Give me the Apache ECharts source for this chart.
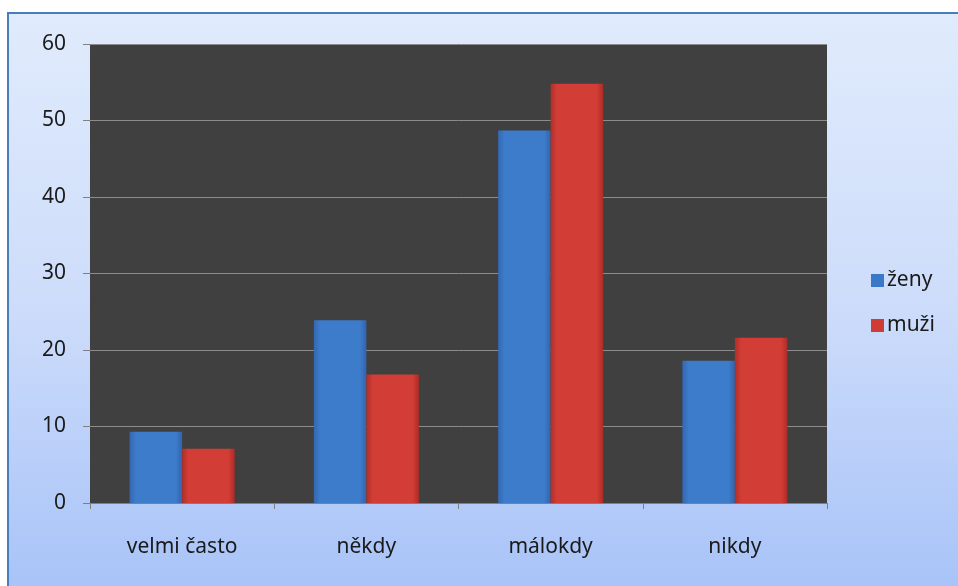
<!DOCTYPE html>
<html><head><meta charset="utf-8">
<script src="https://cdn.jsdelivr.net/npm/echarts@6/dist/echarts.min.js"></script>
<style>html,body{margin:0;padding:0;background:#fff}#c{width:958px;height:586px}</style>
</head><body><div id="c"></div>
<script>
const categories = ['velmi často', 'někdy', 'málokdy', 'nikdy'];
const zeny = [9.3, 23.9, 48.7, 18.6];
const muzi = [7.1, 16.8, 54.8, 21.6];
const yTicks = [0, 10, 20, 30, 40, 50, 60];

const chart = echarts.init(document.getElementById('c'), null, {renderer: 'canvas'});
const font = '"Noto Sans", sans-serif';
function barColor(c1, c2, c3) {
  return new echarts.graphic.LinearGradient(0, 0, 1, 0, [
    {offset: 0, color: c1}, {offset: 0.12, color: c2}, {offset: 0.88, color: c2}, {offset: 1, color: c3}
  ]);
}
chart.setOption({
  animation: false,
  backgroundColor: '#ffffff',
  graphic: [{
    type: 'rect', z: -10, silent: true,
    shape: {x: 8, y: 13, width: 960, height: 590},
    style: {
      fill: new echarts.graphic.LinearGradient(0, 0, 0, 1, [
        {offset: 0, color: '#e0ebfc'}, {offset: 0.5, color: '#cddcfa'}, {offset: 1, color: '#a6c2f8'}
      ]),
      stroke: '#4a7ebb', lineWidth: 2
    }
  }],
  grid: {left: 90, top: 44, width: 737, height: 459, backgroundColor: '#404040', show: true, borderWidth: 0},
  legend: {
    orient: 'vertical', left: 866, top: 265, itemGap: 24,
    itemWidth: 13, itemHeight: 13, icon: 'rect',
    textStyle: {fontFamily: font, fontSize: 21, color: '#1a1a1a', padding: [0, 0, 0, -2]},
    data: [{name: 'ženy', itemStyle: {color: '#3a78c8'}}, {name: 'muži', itemStyle: {color: '#cf3b35'}}]
  },
  xAxis: {
    type: 'category', data: categories,
    axisLine: {show: true, lineStyle: {color: '#808080'}},
    axisTick: {show: true, length: 6, lineStyle: {color: '#808080'}},
    axisLabel: {fontFamily: font, fontSize: 21, color: '#1a1a1a', margin: 34}
  },
  yAxis: {
    type: 'value', min: yTicks[0], max: yTicks[yTicks.length - 1], interval: 10,
    axisLine: {show: false},
    axisTick: {show: true, length: 7, lineStyle: {color: '#808080'}},
    splitLine: {show: true, lineStyle: {color: '#8c8c8c', width: 1}},
    axisLabel: {fontFamily: font, fontSize: 21, color: '#1a1a1a', margin: 24}
  },
  series: [
    {name: 'ženy', type: 'bar', data: zeny, barGap: '0%', barCategoryGap: '43%',
     itemStyle: {color: barColor('#3468b0', '#3d7bcb', '#3264ab')}},
    {name: 'muži', type: 'bar', data: muzi,
     itemStyle: {color: barColor('#b02e29', '#d23d36', '#ae2c27')}}
  ]
});
</script></body></html>
